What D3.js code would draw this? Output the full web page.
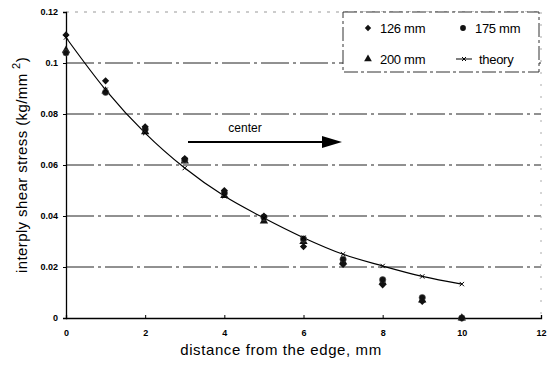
<!DOCTYPE html>
<html><head><meta charset="utf-8">
<script src="https://cdn.jsdelivr.net/npm/d3@7"></script>
<style>body{margin:0;background:#fff;} svg{display:block;font-family:Arial,"Liberation Sans",sans-serif;}</style>
</head><body><svg id="c" width="550" height="365"></svg>
<script>
const xs = [0,1,2,3,4,5,6,7,8,9,10];
const s126 = [0.111,0.093,0.075,0.0625,0.050,0.040,0.028,0.021,0.013,0.0065,0];
const s175 = [0.104,0.0885,0.074,0.062,0.049,0.0395,0.031,0.023,0.015,0.008,0];
const s200 = [0.105,0.089,0.073,0.0615,0.048,0.038,0.030,0.022,0.014,0.007,0];
const theory = [0.110,0.0895,0.0725,0.0588,0.0478,0.0392,0.0315,0.025,0.0204,0.0163,0.0133];
const xTicks = [0,2,4,6,8,10,12];
const yTicks = [0,0.02,0.04,0.06,0.08,0.1,0.12];
const yTickLabels = ["0","0.02","0.04","0.06","0.08","0.1","0.12"];

const svg = d3.select("#c");
const x = d3.scaleLinear().domain([0,12]).range([66,541]);
const y = d3.scaleLinear().domain([0,0.12]).range([318,12]);

// grid
svg.append("g").selectAll("line").data(yTicks.filter(d=>d>0)).join("line")
  .attr("x1",x(0)).attr("x2",x(12)).attr("y1",d=>y(d)).attr("y2",d=>y(d))
  .attr("stroke",d=>d===0.12?"#999":"#222").attr("stroke-width",1)
  .attr("stroke-dasharray",d=>d===0.12?"3,6":"28,4,3,4");
// right border faint
svg.append("line").attr("x1",x(12)).attr("x2",x(12)).attr("y1",y(0.12)).attr("y2",y(0))
  .attr("stroke","#aaa").attr("stroke-dasharray","2,10");

// axes
const yAxis = d3.axisLeft(y).tickValues(yTicks).tickFormat((d,i)=>yTickLabels[i]).tickSize(3);
const gy = svg.append("g").attr("transform",`translate(${x(0)},0)`).call(yAxis);
const xAxis = d3.axisBottom(x).tickValues(xTicks).tickFormat(d3.format("d")).tickSize(-3);
const gx = svg.append("g").attr("transform",`translate(0,${y(0)})`).call(xAxis);
[gy,gx].forEach(g=>{
  g.select(".domain").attr("stroke","#000").attr("stroke-width",1.3);
  g.selectAll(".tick line").attr("stroke","#000");
  g.selectAll("text").attr("font-size",9).attr("font-weight","bold").attr("fill","#000")
   .attr("font-family","Arial,'Liberation Sans',sans-serif");
});
gy.selectAll("text").attr("x",-8);
gx.selectAll("text").attr("y",12);

// theory curve
const pts = xs.map((d,i)=>[d,theory[i]]);
svg.append("path").datum(pts)
  .attr("d",d3.line().x(d=>x(d[0])).y(d=>y(d[1])).curve(d3.curveMonotoneX))
  .attr("fill","none").attr("stroke","#000").attr("stroke-width",1.2);

const sym = (type,size)=>d3.symbol().type(type).size(size)();
const series = [
  {v:s200, type:d3.symbolTriangle, size:30, rot:0},
  {v:s175, type:d3.symbolCircle, size:32, rot:0},
  {v:s126, type:d3.symbolSquare, size:26, rot:45}
];
series.forEach(s=>{
  svg.append("g").selectAll("path").data(xs).join("path")
    .attr("transform",(d,i)=>`translate(${x(d)},${y(s.v[i])}) rotate(${s.rot})`)
    .attr("d",sym(s.type,s.size)).attr("fill","#111")
    .attr("stroke",s.type===d3.symbolCircle?"#555":"none").attr("stroke-width",0.6);
});
svg.append("g").selectAll("path").data(xs).join("path")
  .attr("transform",(d,i)=>`translate(${x(d)},${y(theory[i])})`)
  .attr("d",d3.symbol().type(d3.symbolX).size(14)()).attr("stroke","#000").attr("stroke-width",1).attr("fill","none");

// arrow "center"
svg.append("line").attr("x1",188).attr("x2",325).attr("y1",142).attr("y2",142)
  .attr("stroke","#000").attr("stroke-width",2.2);
svg.append("path").attr("d","M322,136 L342,142 L322,148 Z").attr("fill","#000");
svg.append("text").attr("x",245).attr("y",132).attr("text-anchor","middle")
  .attr("font-size",12).text("center");

// legend
const lg = svg.append("g");
lg.append("rect").attr("x",343).attr("y",12).attr("width",196).attr("height",60)
  .attr("fill","#fff").attr("stroke","#333").attr("stroke-dasharray","14,3,3,3");
const legItems = [
  {t:"126 mm", type:d3.symbolSquare, rot:45, lx:368, ly:28},
  {t:"175 mm", type:d3.symbolCircle, rot:0, lx:463, ly:28},
  {t:"200 mm", type:d3.symbolTriangle, rot:0, lx:368, ly:59},
  {t:"theory", type:null, rot:0, lx:463, ly:59}
];
legItems.forEach(d=>{
  if(d.type){
    lg.append("path").attr("transform",`translate(${d.lx},${d.ly}) rotate(${d.rot})`)
      .attr("d",sym(d.type,d.rot?20:26)).attr("fill","#111");
  } else {
    lg.append("line").attr("x1",d.lx-7).attr("x2",d.lx+9).attr("y1",d.ly).attr("y2",d.ly).attr("stroke","#000");
    lg.append("path").attr("transform",`translate(${d.lx+1},${d.ly})`)
      .attr("d",d3.symbol().type(d3.symbolX).size(12)()).attr("stroke","#000").attr("fill","none");
  }
  lg.append("text").attr("x",d.lx+(d.type?12:16)).attr("y",d.ly+4.5).attr("font-size",13).attr("letter-spacing",-0.3).text(d.t);
});

// axis titles
svg.append("text").attr("x",281).attr("y",355).attr("text-anchor","middle")
  .attr("font-size",15).attr("letter-spacing",0.6).text("distance from the edge, mm");
const yl = svg.append("text").attr("transform","translate(27,165) rotate(-90)").attr("text-anchor","middle")
  .attr("font-size",15).attr("letter-spacing",0.4);
yl.append("tspan").text("interply shear stress (kg/mm ");
yl.append("tspan").attr("dy",-7).attr("font-size",11).text("2");
yl.append("tspan").attr("dy",7).text(")");
</script></body></html>
